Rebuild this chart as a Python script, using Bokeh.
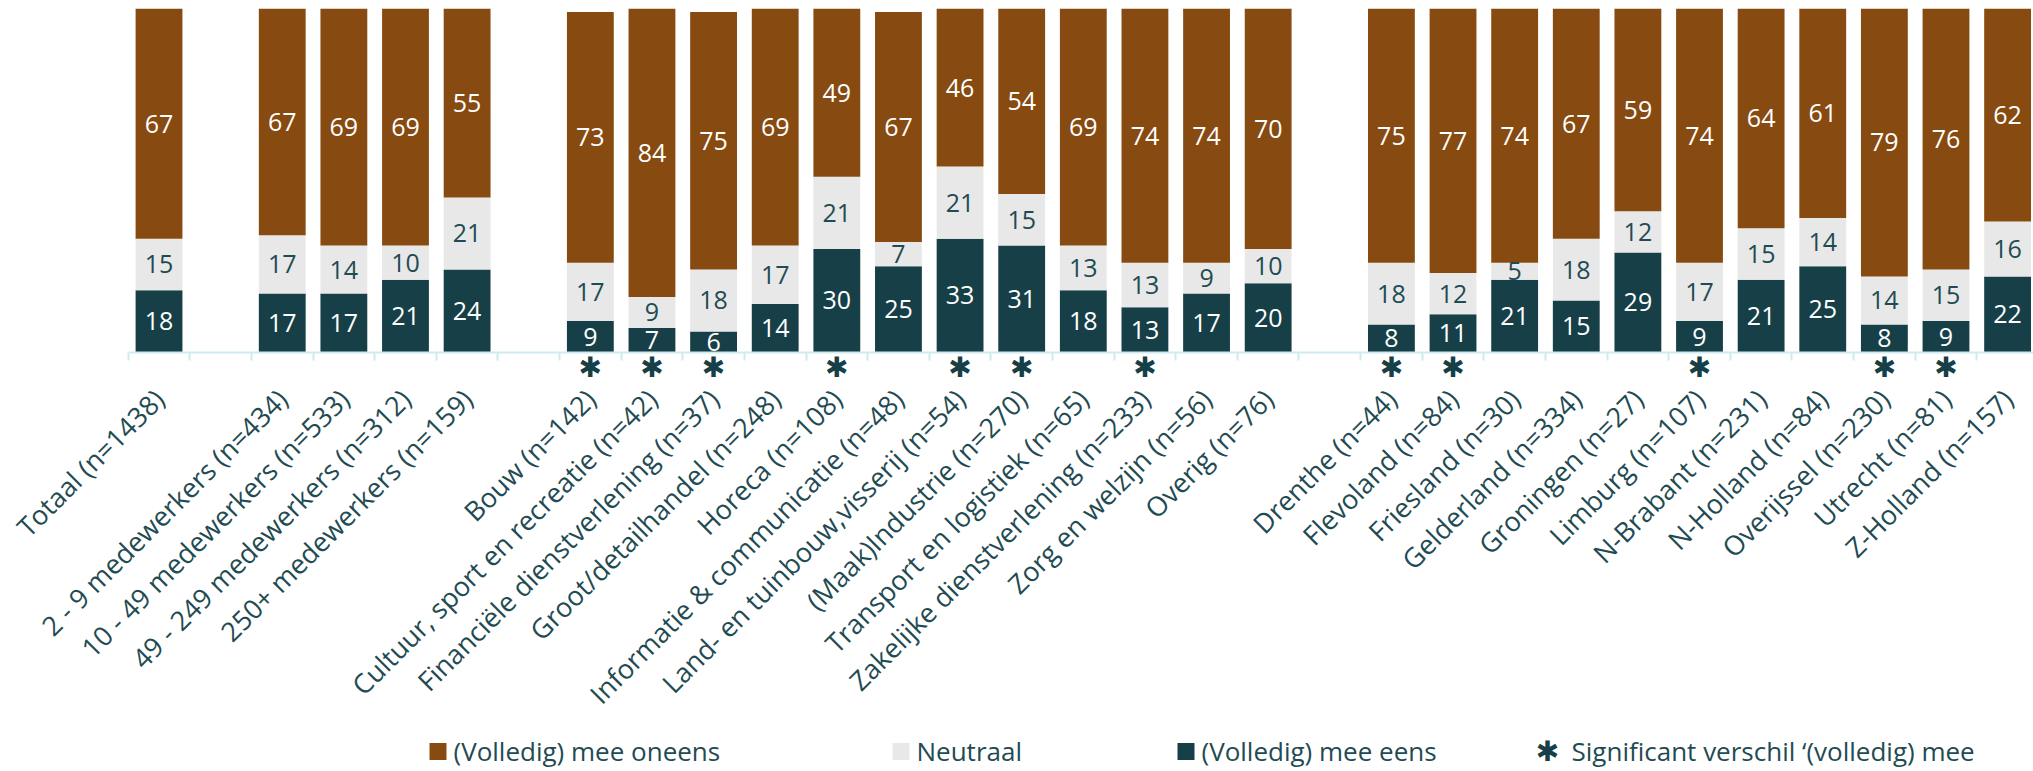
import math
from bokeh.plotting import figure
from bokeh.models import Range1d, FixedTicker, Label, ColumnDataSource, BoxAnnotation
from bokeh.embed import file_html
from bokeh.resources import INLINE
from bokeh.core.properties import value

# ---------------- data ----------------
categories = [
    "Totaal (n=1438)", "",
    "2 - 9 medewerkers (n=434)", "10 - 49 medewerkers (n=533)",
    "49 - 249 medewerkers (n=312)", "250+ medewerkers (n=159)", "",
    "Bouw (n=142)", "Cultuur, sport en recreatie (n=42)",
    "Financiële dienstverlening (n=37)", "Groot/detailhandel (n=248)",
    "Horeca (n=108)", "Informatie & communicatie (n=48)",
    "Land- en tuinbouw,visserij (n=54)", "(Maak)Industrie (n=270)",
    "Transport en logistiek (n=65)", "Zakelijke dienstverlening (n=233)",
    "Zorg en welzijn (n=56)", "Overig (n=76)", "",
    "Drenthe (n=44)", "Flevoland (n=84)", "Friesland (n=30)",
    "Gelderland (n=334)", "Groningen (n=27)", "Limburg (n=107)",
    "N-Brabant (n=231)", "N-Holland (n=84)", "Overijssel (n=230)",
    "Utrecht (n=81)", "Z-Holland (n=157)",
]
eens = [18, None, 17, 17, 21, 24, None,
        9, 7, 6, 14, 30, 25, 33, 31, 18, 13, 17, 20, None,
        8, 11, 21, 15, 29, 9, 21, 25, 8, 9, 22]
neutraal = [15, None, 17, 14, 10, 21, None,
            17, 9, 18, 17, 21, 7, 21, 15, 13, 13, 9, 10, None,
            18, 12, 5, 18, 12, 17, 15, 14, 14, 15, 16]
oneens = [67, None, 67, 69, 69, 55, None,
          73, 84, 75, 69, 49, 67, 46, 54, 69, 74, 74, 70, None,
          75, 77, 74, 67, 59, 74, 64, 61, 79, 76, 62]
significant = [0, 0, 0, 0, 0, 0, 0,
               1, 1, 1, 0, 1, 0, 1, 1, 0, 1, 0, 0, 0,
               1, 1, 0, 0, 0, 1, 0, 0, 1, 1, 0]

series_names = ["(Volledig) mee oneens", "Neutraal", "(Volledig) mee eens"]
legend_note = "Significant verschil \u2018(volledig) mee"

# ---------------- style ----------------
C_BROWN = "#874A10"
C_GRAY = "#E8E8E8"
C_DARK = "#163F47"
C_TEXT = "#1F4B53"
C_AXIS = "#CDEBF0"
FONT = "Open Sans"

W, H = 2033, 771
TOP = 8            # frame top (value 100)
AXIS_LEFT = 127.7  # page x of the first category boundary
PX_PER_X = 61.62
PX_PER_Y = 3.435
X_START = -0.5 - AXIS_LEFT / PX_PER_X
X_END = -0.5 + (W - AXIS_LEFT) / PX_PER_X
Y_MIN = 100 - (H - TOP) / PX_PER_Y

idx = [i for i, c in enumerate(categories) if c]
src = ColumnDataSource(dict(
    x=idx,
    eens=[eens[i] for i in idx],
    neutraal=[neutraal[i] for i in idx],
    oneens=[oneens[i] for i in idx],
))

p = figure(width=W, height=H, output_backend="svg", toolbar_location=None,
           x_range=Range1d(X_START, X_END), y_range=Range1d(Y_MIN, 100),
           min_border_left=0, min_border_right=0, min_border_top=TOP,
           min_border_bottom=0)
p.outline_line_color = None
p.xgrid.visible = False
p.ygrid.visible = False
p.yaxis.visible = False
p.background_fill_color = "white"
p.border_fill_color = "white"

p.vbar_stack(["eens", "neutraal", "oneens"], x="x", width=0.76,
             color=[C_DARK, C_GRAY, C_BROWN], line_color=None, source=src)

# value labels in segment centres
lx, ly, lt, lc = [], [], [], []
for i in idx:
    segs = [(eens[i], "white"), (neutraal[i], C_TEXT), (oneens[i], "white")]
    base = 0
    for v, col in segs:
        lx.append(i)
        ly.append(min(base + v / 2, (base + 100) / 2))
        lt.append(str(v))
        lc.append(col)
        base += v
p.text(x=lx, y=ly, text=lt, text_color=lc, text_align="center",
       text_baseline="middle", text_font=value(FONT), text_font_size="25px")

# x axis at y=0: labels at centres, ticks at category boundaries
ax = p.xaxis[0]
ax.fixed_location = 0
ax.bounds = (-0.5, X_END)
ax.ticker = FixedTicker(ticks=idx,
                        minor_ticks=[i - 0.5 for i in range(len(categories) + 1)])
ax.major_label_overrides = {i: categories[i] for i in idx}
ax.major_label_orientation = math.pi / 4
ax.major_tick_out = 0
ax.major_tick_in = 0
ax.minor_tick_out = 8
ax.minor_tick_in = 0
ax.minor_tick_line_color = C_AXIS
ax.minor_tick_line_width = 2
ax.axis_line_color = C_AXIS
ax.axis_line_width = 2
ax.major_label_text_font = FONT
ax.major_label_text_font_size = "27px"
ax.major_label_text_color = C_TEXT
ax.major_label_standoff = 34

# significance asterisks below the axis
sig_x = [i for i in idx if significant[i]]
p.text(x=sig_x, y=[-4.4] * len(sig_x), text=["\u2731"] * len(sig_x),
       text_align="center", text_baseline="middle", text_color=C_DARK,
       text_font=value("DejaVu Sans"), text_font_size="28px")


# ---------------- legend (manual, below the chart) ----------------
def dx(px):
    return (px - AXIS_LEFT) / PX_PER_X - 0.5


def dy(py):
    return (TOP + 100 * PX_PER_Y - py) / PX_PER_Y


LEG_Y = 751
sq = 17
for left, col, txt_left, txt in [(429, C_BROWN, 453, series_names[0]),
                                 (892, C_GRAY, 916, series_names[1]),
                                 (1177, C_DARK, 1201, series_names[2])]:
    p.add_layout(BoxAnnotation(left=dx(left), right=dx(left + sq),
                               top=dy(LEG_Y - sq / 2), bottom=dy(LEG_Y + sq / 2),
                               fill_color=col, fill_alpha=1, line_color=None))
    p.add_layout(Label(x=dx(txt_left), y=dy(LEG_Y - 1), text=txt, text_align="left",
                       text_baseline="middle", text_color=C_TEXT, text_font=FONT,
                       text_font_size="26px"))
p.add_layout(Label(x=dx(1547), y=dy(LEG_Y), text="\u2731", text_align="center",
                   text_baseline="middle", text_color=C_DARK,
                   text_font="DejaVu Sans", text_font_size="28px"))
p.add_layout(Label(x=dx(1571), y=dy(LEG_Y - 1), text=legend_note, text_align="left",
                   text_baseline="middle", text_color=C_TEXT, text_font=FONT,
                   text_font_size="26px"))

open("out.html", "w").write(file_html(p, INLINE))
